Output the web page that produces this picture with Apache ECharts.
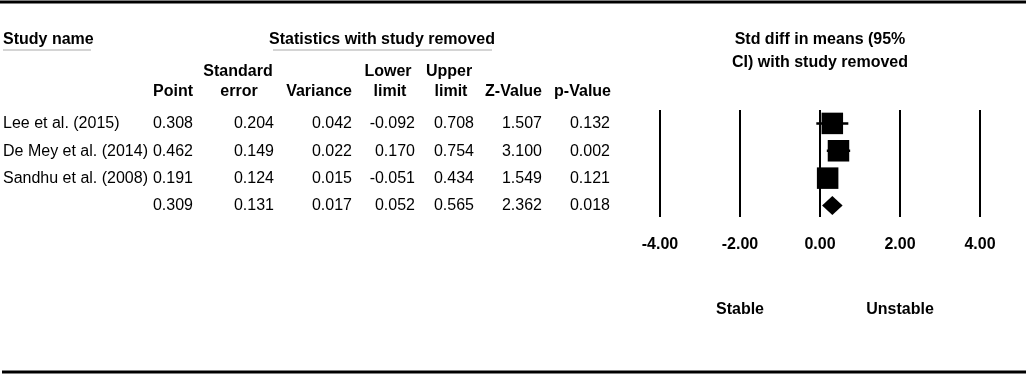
<!DOCTYPE html>
<html>
<head>
<meta charset="utf-8">
<script src="https://cdn.jsdelivr.net/npm/echarts@6/dist/echarts.min.js"></script>
<style>
html,body{margin:0;padding:0;background:#fff;}
#chart{width:1026px;height:375px;}
</style>
</head>
<body>
<div id="chart"></div>
<script>
// ---- data ----
const studies = ['Lee et al. (2015)', 'De Mey et al. (2014)', 'Sandhu et al. (2008)', ''];
const point = [0.308, 0.462, 0.191, 0.309];
const stdErr = [0.204, 0.149, 0.124, 0.131];
const variance = [0.042, 0.022, 0.015, 0.017];
const lower = [-0.092, 0.170, -0.051, 0.052];
const upper = [0.708, 0.754, 0.434, 0.565];
const zValue = [1.507, 3.100, 1.549, 2.362];
const pValue = [0.132, 0.002, 0.121, 0.018];
const isSummary = [false, false, false, true];
const xMin = -4, xMax = 4, xInterval = 2;
const leftLabel = 'Stable';
const rightLabel = 'Unstable';

// ---- layout (not data) ----
const FONT = '"Liberation Sans", Arial, sans-serif';
const nameX = 3;
const colRight = [193, 274, 352, 415, 474, 542, 610];
const columns = [point, stdErr, variance, lower, upper, zValue, pValue];

function txt(text, x, y, align, bold) {
  return {
    type: 'text', x: x, y: y, silent: true,
    style: {
      text: text, align: align, verticalAlign: 'middle',
      textAlign: align, textVerticalAlign: 'middle',
      font: (bold ? 'bold ' : '') + '16px ' + FONT, fill: '#000'
    }
  };
}
function hline(x1, x2, y, w, color) {
  return { type: 'line', silent: true, shape: { x1: x1, y1: y, x2: x2, y2: y },
           style: { stroke: color, lineWidth: w } };
}

const graphics = [
  hline(0, 1026, 2, 3, '#000'),
  hline(2, 1026, 372, 3, '#000'),
  txt('Study name', 3, 40, 'left', true),
  hline(3, 91, 50, 1, '#aaa'),
  txt('Statistics with study removed', 382, 40, 'center', true),
  hline(273, 492, 50, 1, '#aaa'),
  txt('Point', 193, 92, 'right', true),
  txt('Standard', 238, 72, 'center', true),
  txt('error', 239, 92, 'center', true),
  txt('Variance', 352, 92, 'right', true),
  txt('Lower', 388, 72, 'center', true),
  txt('limit', 390, 92, 'center', true),
  txt('Upper', 449, 72, 'center', true),
  txt('limit', 451, 92, 'center', true),
  txt('Z-Value', 542, 92, 'right', true),
  txt('p-Value', 611, 92, 'right', true),
  txt('Std diff in means (95%', 820, 40, 'center', true),
  txt('CI) with study removed', 820, 63, 'center', true),
  txt(leftLabel, 740, 310, 'center', true),
  txt(rightLabel, 900, 310, 'center', true)
];

const tableData = studies.map((s, i) => [0, i]);
const forestData = studies.map((s, i) => [point[i], i, lower[i], upper[i], isSummary[i] ? 1 : 0]);

const option = {
  animation: false,
  backgroundColor: '#fff',
  textStyle: { fontFamily: FONT },
  grid: { left: 660, width: 320, top: 110, height: 107 },
  xAxis: {
    type: 'value', min: xMin, max: xMax, interval: xInterval,
    axisLine: { show: false }, axisTick: { show: false },
    splitLine: { show: true, lineStyle: { color: '#000', width: 2 } },
    axisLabel: {
      margin: 20, color: '#000', fontWeight: 'bold', fontSize: 16, fontFamily: FONT,
      formatter: v => v.toFixed(2)
    }
  },
  yAxis: {
    type: 'value', min: -0.49, max: 3.42, inverse: true,
    show: false, splitLine: { show: false }
  },
  graphic: graphics,
  series: [
    {
      type: 'custom', clip: false, silent: true,
      data: tableData,
      renderItem: function (params, api) {
        const r = api.value(1);
        const y = api.coord([0, r])[1] + 0.5;
        const children = [];
        if (studies[r]) children.push(txt(studies[r], nameX, y, 'left', false));
        columns.forEach((col, c) => {
          children.push(txt(col[r].toFixed(3), colRight[c], y, 'right', false));
        });
        return { type: 'group', children: children };
      }
    },
    {
      type: 'custom', clip: false, silent: true,
      data: forestData,
      encode: { x: 0, y: 1 },
      renderItem: function (params, api) {
        const p = api.coord([api.value(0), api.value(1)]);
        const lo = api.coord([api.value(2), api.value(1)]);
        const hi = api.coord([api.value(3), api.value(1)]);
        if (api.value(4) === 1) {
          const h = 9.5;
          return {
            type: 'polygon',
            shape: { points: [[lo[0], p[1]], [p[0], p[1] - h], [hi[0], p[1]], [p[0], p[1] + h]] },
            style: { fill: '#000' }
          };
        }
        const s = 21.5;
        return {
          type: 'group',
          children: [
            { type: 'line', shape: { x1: lo[0], y1: p[1], x2: hi[0], y2: p[1] },
              style: { stroke: '#000', lineWidth: 2.5 } },
            { type: 'rect', shape: { x: p[0] - s / 2, y: p[1] - s / 2, width: s, height: s },
              style: { fill: '#000' } }
          ]
        };
      }
    }
  ]
};

const chart = echarts.init(document.getElementById('chart'), null, { renderer: 'canvas' });
chart.setOption(option);
</script>
</body>
</html>
